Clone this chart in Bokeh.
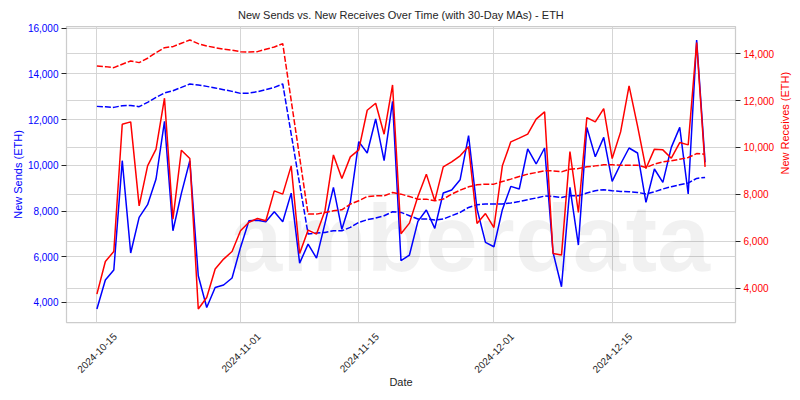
import math
import pandas as pd
from bokeh.plotting import figure
from bokeh.models import (Range1d, LinearAxis, Grid, FixedTicker, SingleIntervalTicker,
                          NumeralTickFormatter, Label)
from bokeh.embed import file_html
from bokeh.resources import INLINE

# ---------------- data ----------------
start_date = "2024-10-15"
end_date = "2024-12-26"
tick_dates = ["2024-10-15", "2024-11-01", "2024-11-15", "2024-12-01", "2024-12-15"]

sends = [3711, 4981, 5418, 10204, 6163, 7722, 8278, 9403, 11925, 7139,
         8772, 10204, 5169, 3781, 4657, 4762, 5068, 6408, 7577, 7600,
         7533, 7971, 7533, 8784, 5720, 6552, 5939, 7459, 9039, 7200,
         8382, 11039, 10541, 12030, 10204, 12800, 5826, 6075, 7547, 8046,
         7240, 8790, 8921, 9372, 11299, 8089, 6627, 6439, 8059, 9079,
         8965, 10716, 10060, 10760, 6189, 4687, 9035, 6513, 11662, 10379,
         11224, 9297, 10059, 10760, 10541, 8378, 9840, 9254, 10786, 11662,
         8746, 15488, 10129]

receives = [3744, 5134, 5560, 10991, 11089, 7508, 9213, 9925, 12099, 6941,
            9882, 9524, 3105, 3599, 4810, 5236, 5560, 6442, 6810, 6967,
            6869, 8148, 8007, 9213, 5475, 6472, 6302, 7300, 9682, 8672,
            9597, 9896, 11587, 11886, 10564, 12666, 6320, 6771, 7905, 8860,
            7722, 9171, 9384, 9640, 10036, 6754, 7180, 6583, 9214, 10237,
            10395, 10565, 11205, 11516, 5475, 5407, 9823, 7223, 11273, 11089,
            11656, 9525, 10663, 12624, 10919, 9099, 9926, 9896, 9542, 10207,
            10109, 14470, 9171]

sends_ma = [12581, 12560, 12537, 12611, 12620, 12567, 12756, 12975, 13167, 13268,
            13413, 13561, 13517, 13456, 13386, 13312, 13237, 13150, 13160, 13224,
            13312, 13413, 13561, 11372, 9184, 6995, 7038, 7065, 7139, 7139,
            7284, 7502, 7621, 7695, 7796, 7971, 7940, 7796, 7651, 7651,
            7607, 7651, 7796, 7940, 8159, 8277, 8308, 8308, 8308, 8352,
            8422, 8496, 8571, 8655, 8641, 8597, 8671, 8671, 8790, 8890,
            8934, 8890, 8860, 8845, 8816, 8746, 8845, 8965, 9065, 9153,
            9227, 9429, 9473]

receives_ma = [13477, 13447, 13404, 13549, 13690, 13618, 13805, 14044, 14257, 14300,
               14444, 14585, 14427, 14329, 14257, 14189, 14146, 14086, 14070, 14086,
               14189, 14287, 14427, 12003, 9579, 7155, 7155, 7223, 7295, 7338,
               7581, 7722, 7905, 7935, 7935, 8075, 8007, 7905, 7794, 7794,
               7722, 7794, 8007, 8178, 8318, 8404, 8434, 8434, 8544, 8647,
               8758, 8860, 8928, 9000, 9000, 8958, 9073, 9099, 9171, 9213,
               9256, 9256, 9242, 9242, 9242, 9141, 9286, 9384, 9427, 9499,
               9568, 9738, 9712]

title_text = "New Sends vs. New Receives Over Time (with 30-Day MAs) - ETH"
left_label = "New Sends (ETH)"
right_label = "New Receives (ETH)"
x_label = "Date"
legend_labels = ["New Sends", "New Receives"]
watermark = "amberdata"

# ---------------- build ----------------
dates = pd.date_range(start_date, end_date, freq="D")
FONT = "Liberation Sans"
TXT = "#262626"
GRID = "#d5d5d5"

W, H = 800, 400
BL, BR, BT, BB = 66, 65, 26, 78
FW, FH = W - BL - BR, H - BT - BB   # frame size in px


def padded(*series):
    lo = min(min(s) for s in series)
    hi = max(max(s) for s in series)
    pad = 0.05 * (hi - lo)
    return lo - pad, hi + pad


pad_t = (dates[-1] - dates[0]) * 0.05
x0, x1 = dates[0] - pad_t, dates[-1] + pad_t
x_range = Range1d(x0.to_pydatetime(), x1.to_pydatetime())
l0, l1 = padded(sends, sends_ma)
r0, r1 = padded(receives, receives_ma)

p = figure(width=W, height=H, x_axis_type="datetime", x_range=x_range,
           y_range=Range1d(l0, l1), output_backend="svg", toolbar_location=None,
           min_border_left=BL, min_border_right=BR, min_border_top=BT, min_border_bottom=BB)
p.extra_y_ranges = {"right": Range1d(r0, r1)}

p.background_fill_color = "white"
p.border_fill_color = "white"
p.outline_line_color = "#cccccc"
p.outline_line_width = 1.25

# title
p.title.text = title_text
p.title.align = "center"
p.title.text_font = FONT
p.title.text_font_size = "11px"
p.title.text_font_style = "normal"
p.title.text_color = TXT
p.title.standoff = 12

# x axis: grid at the date ticks; the rotated labels are centred on the ticks
# (Bokeh right-aligns rotated labels, so their anchors sit a little to the right)
tick_ms = [pd.Timestamp(d).value / 1e6 for d in tick_dates]
p.xgrid.ticker = FixedTicker(ticks=tick_ms)
ms_per_px = (x1 - x0).total_seconds() * 1000.0 / FW
label_ms = [t + 18 * ms_per_px for t in tick_ms]
xa = p.xaxis[0]
xa.ticker = FixedTicker(ticks=label_ms)
xa.major_label_overrides = {m: d for m, d in zip(label_ms, tick_dates)}
xa.major_label_orientation = math.pi / 4
xa.major_label_text_font = FONT
xa.major_label_text_font_size = "10px"
xa.major_label_text_color = TXT
xa.major_label_standoff = 12
xa.major_tick_out = 0
xa.major_tick_in = 0
xa.minor_tick_out = 0
xa.minor_tick_in = 0
xa.axis_line_color = None
xa.axis_label = x_label
xa.axis_label_text_font = FONT
xa.axis_label_text_font_size = "11px"
xa.axis_label_text_font_style = "normal"
xa.axis_label_text_color = TXT
xa.axis_label_standoff = -3


def style_y(ax, color, label_text, label_standoff):
    ax.ticker = SingleIntervalTicker(interval=2000, num_minor_ticks=0)
    ax.formatter = NumeralTickFormatter(format="0,0")
    ax.major_label_text_font = FONT
    ax.major_label_text_font_size = "10px"
    ax.major_label_text_color = color
    ax.major_tick_out = 5
    ax.major_tick_in = 0
    ax.major_tick_line_color = TXT
    ax.major_tick_line_width = 1
    ax.minor_tick_out = 0
    ax.minor_tick_in = 0
    ax.axis_line_color = None
    ax.major_label_standoff = 3
    ax.axis_label = label_text
    ax.axis_label_text_font = FONT
    ax.axis_label_text_font_size = "11px"
    ax.axis_label_text_font_style = "normal"
    ax.axis_label_text_color = color
    ax.axis_label_standoff = label_standoff


ya = p.yaxis[0]
style_y(ya, "blue", left_label, 1)
p.ygrid.ticker = ya.ticker

ra = LinearAxis(y_range_name="right")
style_y(ra, "red", right_label, 8)
if hasattr(ra, "axis_label_orientation"):
    ra.axis_label_orientation = math.pi / 2   # read bottom-to-top, like the reference
p.add_layout(ra, "right")

# grids
for g in (p.xgrid, p.ygrid):
    g.grid_line_color = GRID
    g.grid_line_width = 1
p.add_layout(Grid(dimension=1, ticker=ra.ticker, y_range_name="right",
                  grid_line_color=GRID, grid_line_width=1))

# watermark
p.add_layout(Label(x=163, y=85, x_units="screen", y_units="screen", text=watermark,
                   text_font=FONT, text_font_size="95px", text_font_style="bold",
                   text_color="#000000", text_alpha=0.055, text_baseline="alphabetic",
                   level="underlay"))

# series
p.line(dates, sends, line_color="blue", line_width=1.5)
p.line(dates, sends_ma, line_color="blue", line_width=1.5, line_dash="6 2")
p.line(dates, receives, line_color="red", line_width=1.5, y_range_name="right")
p.line(dates, receives_ma, line_color="red", line_width=1.5, line_dash="6 2",
       y_range_name="right")

# legend (cut off at the bottom of the page, as in the reference)
for txt, xs in zip(legend_labels, [234, 364]):
    p.add_layout(Label(x=xs, y=-73.5, x_units="screen", y_units="screen", text=txt,
                       text_font=FONT, text_font_size="10px", text_color=TXT,
                       text_baseline="top"))

open("out.html", "w").write(file_html(p, INLINE))
